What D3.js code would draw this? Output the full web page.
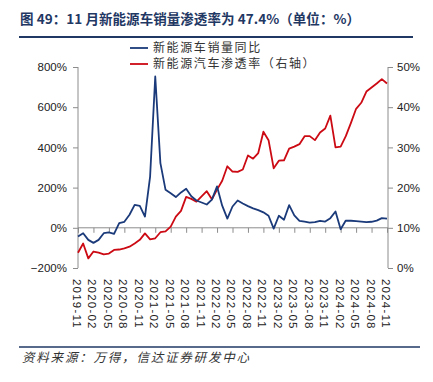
<!DOCTYPE html>
<html><head><meta charset="utf-8">
<script src="https://cdn.jsdelivr.net/npm/d3@7"></script>
<style>
body{margin:0;background:#fff;}
svg{display:block;}
</style></head>
<body>
<svg id="c" width="433" height="382"></svg>
<script>
const months = ["2019-11","2019-12","2020-01","2020-02","2020-03","2020-04","2020-05","2020-06","2020-07","2020-08","2020-09","2020-10","2020-11","2020-12",
"2021-01","2021-02","2021-03","2021-04","2021-05","2021-06","2021-07","2021-08","2021-09","2021-10","2021-11","2021-12",
"2022-01","2022-02","2022-03","2022-04","2022-05","2022-06","2022-07","2022-08","2022-09","2022-10","2022-11","2022-12",
"2023-01","2023-02","2023-03","2023-04","2023-05","2023-06","2023-07","2023-08","2023-09","2023-10","2023-11","2023-12",
"2024-01","2024-02","2024-03","2024-04","2024-05","2024-06","2024-07","2024-08","2024-09","2024-10","2024-11"];
const tickLabels = ["2019-11","2020-02","2020-05","2020-08","2020-11","2021-02","2021-05","2021-08","2021-11","2022-02","2022-05",
"2022-08","2022-11","2023-02","2023-05","2023-08","2023-11","2024-02","2024-05","2024-08","2024-11"];
// 新能源车销量同比 (%)
const salesYoY = [-43,-27,-60,-75,-60,-27,-23,-30,23,30,65,114,109,56,255,753,322,189,172,153,
176,194,157,136,126,116,140,206,110,46,106,136,121,108,97,88,77,60,-4,60,
40,113,62,35,31,26,28,35,31,48,81,-7,36,35,33,31,28,30,36,48,46];
// 新能源汽车渗透率 (%, 右轴)
const penetration = [3.8,6.1,2.4,4.1,3.8,3.4,3.6,4.5,4.6,4.9,5.3,6.1,7.0,8.6,7.1,7.4,8.9,9.1,10.3,12.8,
14.2,17.7,17.2,16.5,17.8,19.1,17.1,19.5,21.7,25.3,24.0,23.9,24.5,28.0,27.2,28.6,33.9,31.8,24.8,26.7,
26.8,29.7,30.2,30.8,32.8,32.8,31.8,33.7,34.7,37.9,30.0,30.2,32.8,36.1,39.6,41.1,43.9,44.9,45.9,47.0,45.9];
const leftTicks = [-200,0,200,400,600,800];
const rightTicks = [0,10,20,30,40,50];
const seriesNames = ["新能源车销量同比","新能源汽车渗透率（右轴）"];
const title = "图 49：11 月新能源车销量渗透率为 47.4%（单位：%）";
const source = "资料来源：万得，信达证券研发中心";

const svg = d3.select("#c");
const L=78, R=388, T=67, B=268;
const x = d3.scalePoint().domain(months).range([L, 387]);
const yL = d3.scaleLinear().domain([-200,800]).range([B,T]);
const yR = d3.scaleLinear().domain([0,50]).range([B,T]);
const axisColor = "#8c8c8c";
const navy = "#1b3a7a", red = "#cc0a14";

// title
svg.append("text").attr("x",20).attr("y",24).text(title)
  .attr("font-family","'Noto Sans CJK SC',sans-serif").attr("font-size",13.5).attr("font-weight","bold")
  .attr("fill","#1f3864").attr("textLength",340).attr("lengthAdjust","spacing");
svg.append("line").attr("x1",19).attr("x2",413).attr("y1",37).attr("y2",37).attr("stroke","#1f3864").attr("stroke-width",2);

// left axis
const gL = svg.append("g").attr("transform",`translate(${L},0)`)
  .call(d3.axisLeft(yL).tickValues(leftTicks).tickSize(5).tickPadding(6).tickFormat(d=>(d<0?"\u2212"+(-d):d)+"%"));
const gR = svg.append("g").attr("transform",`translate(${R},0)`)
  .call(d3.axisRight(yR).tickValues(rightTicks).tickSize(5).tickPadding(4).tickFormat(d=>d+"%"));
[gL,gR].forEach(g=>{
  g.select(".domain").attr("stroke",axisColor).attr("d", g===gL?`M0,${T}V${B}`:`M0,${T}V${B}`);
  g.selectAll(".tick line").attr("stroke",axisColor);
  g.selectAll("text").attr("font-family","'Liberation Sans',Arial,sans-serif").attr("font-size",11.5).attr("fill","#222");
});

// zero line x-axis with ticks
const gX = svg.append("g").attr("transform",`translate(0,${yL(0)})`)
  .call(d3.axisBottom(x).tickValues(tickLabels).tickSize(5).tickFormat(""));
gX.select(".domain").attr("stroke",axisColor).attr("d",`M${L},0H${R}`);
gX.selectAll(".tick line").attr("stroke",axisColor);

// x labels at bottom, rotated
svg.append("g").selectAll("text").data(tickLabels).join("text")
  .attr("transform",d=>`translate(${x(d)-1},279) rotate(90)`)
  .attr("dy","0.35em").attr("text-anchor","start")
  .attr("font-family","'Liberation Sans',Arial,sans-serif").attr("font-size",11.5).attr("letter-spacing",1.2)
  .attr("fill","#222").text(d=>d);

// lines
const lineL = d3.line().x((d,i)=>x(months[i])).y(d=>yL(d));
const lineR = d3.line().x((d,i)=>x(months[i])).y(d=>yR(d));
svg.append("path").datum(penetration).attr("d",lineR).attr("fill","none").attr("stroke",red).attr("stroke-width",1.8).attr("stroke-linejoin","round");
svg.append("path").datum(salesYoY).attr("d",lineL).attr("fill","none").attr("stroke",navy).attr("stroke-width",1.8).attr("stroke-linejoin","round");

// legend
const lg = svg.append("g");
[[navy,48],[red,64]].forEach((c,i)=>{
  lg.append("line").attr("x1",130).attr("x2",148).attr("y1",c[1]).attr("y2",c[1]).attr("stroke",c[0]).attr("stroke-width",1.8);
  lg.append("text").attr("x",153).attr("y",c[1]+4).text(seriesNames[i])
    .attr("font-family","'Noto Sans CJK SC',sans-serif").attr("font-size",12).attr("letter-spacing",1.6).attr("fill","#333");
});

// footer
svg.append("line").attr("x1",19).attr("x2",420).attr("y1",347).attr("y2",347).attr("stroke","#1f3864").attr("stroke-width",1.5);
svg.append("text").attr("x",22).attr("y",362).text(source)
  .attr("font-family","'Noto Sans CJK SC',sans-serif").attr("font-size",12.5).attr("font-style","italic")
  .attr("letter-spacing",1.8).attr("fill","#333");
</script>
</body></html>
